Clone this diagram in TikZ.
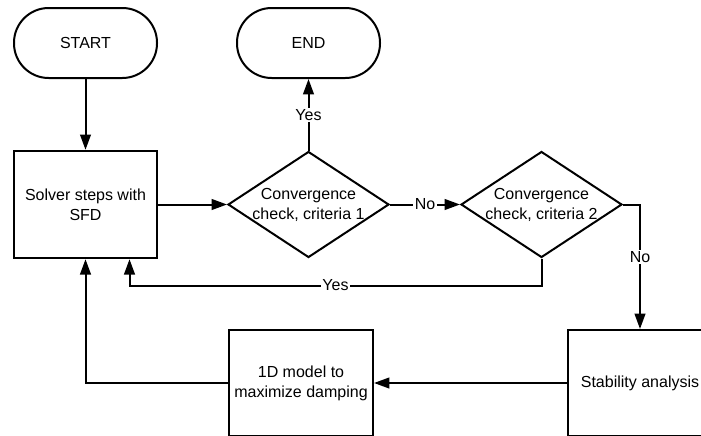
\documentclass[tikz,border=0pt]{standalone}
\usepackage{fontspec}
\setmainfont{Liberation Sans}
\usetikzlibrary{arrows.meta,shapes.geometric}

\begin{document}
\begin{tikzpicture}[x=0.75pt, y=-0.75pt, line width=1.5pt, >={Triangle[length=11.5pt,width=8pt]},
                    every node/.style={align=center, font=\fontsize{12}{15}\selectfont},
                    terminal/.style={draw, rounded corners=26pt, minimum width=107.25pt, minimum height=52.5pt},
                    process/.style={draw, minimum width=107.5pt, minimum height=80.5pt},
                    decision/.style={draw, diamond, aspect=1.52, inner xsep=-4pt, inner ysep=0pt, minimum width=120.75pt, minimum height=79.5pt},
                    answer/.style={fill=white, inner sep=1pt}]
                        \useasboundingbox (0,0) rectangle (701,436);
                        \clip (0,0) rectangle (701,435);
                        \node[terminal] (start) at (85.5, 43) {START};
                        \node[terminal] (finish) at (308.5, 43) {END};
                        \node[process] (solver) at (85.5, 204.5) {Solver steps with\\SFD};
                        \node[decision] (convA) at (308.5, 204.5) {Convergence\\check, criteria 1};
                        \node[decision] (convB) at (541.5, 204.5) {Convergence\\check, criteria 2};
                        \node[process, minimum width=108pt, minimum height=79.5pt] (model) at (301, 383) {1D model to\\maximize damping};
                        \node[process, minimum width=108pt, minimum height=79.5pt] (stab) at (640, 383) {Stability analysis};
                        \draw[->] (start) -- (solver);
                        \draw[->] (solver) -- (convA);
                        \draw[->] (convA) -- (finish) node[midway, answer] {Yes};
                        \draw[->] (convA) -- (convB) node[midway, answer] {No};
                        \draw[->] (convB.east) -| (stab.north) node[pos=0.71, answer] {No};
                        \draw[->] (convB.south) -- ++(0, 27) -| ([xshift=33pt]solver.south) node[pos=0.25, answer] {Yes};
                        \draw[->] (stab) -- (model);
                        \draw[->] (model.west) -| (solver.south);
                    \end{tikzpicture}
\end{document}
